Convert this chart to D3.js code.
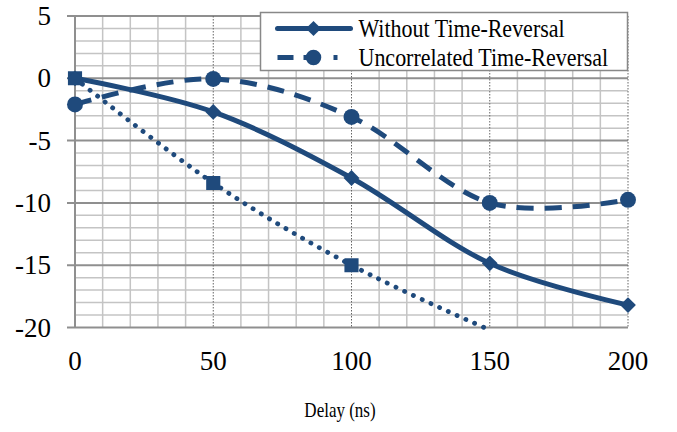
<!DOCTYPE html>
<html>
<head>
<meta charset="utf-8">
<script src="https://cdn.jsdelivr.net/npm/d3@7"></script>
<style>
  body { margin: 0; background: #fff; }
</style>
</head>
<body>
<div id="chart"></div>
<script>
const delays = [0, 50, 100, 150, 200];
const withoutTR = [0, -2.7, -8.0, -14.85, -18.2];
const uncorrelatedTR = [-2.1, -0.05, -3.1, -10.0, -9.75];
const thirdSeries = [0, -8.4, -15.0, -20.2];
const seriesNames = ["Without Time-Reversal", "Uncorrelated Time-Reversal"];
const xTicks = [0, 50, 100, 150, 200];
const yTicks = [5, 0, -5, -10, -15, -20];

const W = 677, H = 432;
const color = "#1f4a7c";
const serif = "'Liberation Serif'";

const svg = d3.select("#chart").append("svg")
    .attr("width", W)
    .attr("height", H);

let x = d3.scaleLinear().domain([0, 200]).range([75, 628]);
let y = d3.scaleLinear().domain([-20, 5]).range([327.5, 16]);

// grid - minor
let minorY = d3.range(-20, 6, 1).filter(v => v % 5 !== 0);
svg.append("g").selectAll("line")
    .data(minorY).enter().append("line")
    .attr("x1", x(0)).attr("x2", x(200))
    .attr("y1", d => y(d)).attr("y2", d => y(d))
    .attr("stroke", "#c4c4c4").attr("stroke-width", 1.5);

let minorX = d3.range(10, 200, 10).filter(v => v % 50 !== 0);
svg.append("g").selectAll("line")
    .data(minorX).enter().append("line")
    .attr("x1", d => x(d)).attr("x2", d => x(d))
    .attr("y1", y(5)).attr("y2", y(-20))
    .attr("stroke", "#c4c4c4").attr("stroke-width", 1.5);

// major horizontal lines with left tick
svg.append("g").selectAll("line")
    .data(yTicks).enter().append("line")
    .attr("x1", x(0) - 8).attr("x2", x(200))
    .attr("y1", d => y(d)).attr("y2", d => y(d))
    .attr("stroke", "#8f8f8f").attr("stroke-width", 2);

// dotted vertical lines at the x ticks
svg.append("g").selectAll("line")
    .data(xTicks.filter(d => d > 0)).enter().append("line")
    .attr("x1", d => x(d)).attr("x2", d => x(d))
    .attr("y1", y(5)).attr("y2", y(-20))
    .attr("stroke", "#666").attr("stroke-width", 1)
    .attr("stroke-dasharray", "1.5,1.5");

// y axis line
svg.append("line")
    .attr("x1", x(0)).attr("x2", x(0))
    .attr("y1", y(5)).attr("y2", y(-20))
    .attr("stroke", "#8f8f8f").attr("stroke-width", 2);

// tick labels
svg.append("g").selectAll("text")
    .data(yTicks).enter().append("text")
    .attr("text-anchor", "end")
    .attr("x", 51)
    .attr("y", d => y(d) + 9)
    .style("font-family", serif)
    .style("font-size", "27px")
    .text(d => d);

svg.append("g").selectAll("text")
    .data(xTicks).enter().append("text")
    .attr("text-anchor", "middle")
    .attr("x", d => x(d))
    .attr("y", 370)
    .style("font-family", serif)
    .style("font-size", "27px")
    .text(d => d);

svg.append("text")
    .attr("text-anchor", "middle")
    .attr("transform", "translate(340,417) scale(1,1.25)")
    .style("font-family", serif)
    .style("font-size", "17px")
    .text("Delay (ns)");

// series
svg.append("clipPath").attr("id", "plotclip")
    .append("rect")
    .attr("x", x(0) - 12).attr("y", y(5) - 10)
    .attr("width", x(200) - x(0) + 24).attr("height", y(-20) - y(5) + 13);

const line = d3.line()
    .x(d => x(d[0]))
    .y(d => y(d[1]))
    .curve(d3.curveCatmullRom.alpha(0));

const s1 = delays.map((d, i) => [d, withoutTR[i]]);
const s2 = delays.map((d, i) => [d, uncorrelatedTR[i]]);
const s3 = thirdSeries.map((v, i) => [delays[i], v]);

const plot = svg.append("g").attr("clip-path", "url(#plotclip)");

plot.append("path").datum(s3)
    .attr("d", line)
    .attr("fill", "none").attr("stroke", color)
    .attr("stroke-width", 4.8).attr("stroke-linecap", "round")
    .attr("stroke-dasharray", "0.1,9.5");

plot.append("path").datum(s2)
    .attr("d", line)
    .attr("fill", "none").attr("stroke", color)
    .attr("stroke-width", 5)
    .attr("stroke-dasharray", "17,11");

plot.append("path").datum(s1)
    .attr("d", line)
    .attr("fill", "none").attr("stroke", color)
    .attr("stroke-width", 5);

// markers (points outside the y range are not drawn)
const inRange = d => d[1] >= -20 && d[1] <= 5;

plot.append("g").selectAll("path")
    .data(s3.filter(inRange)).enter().append("path")
    .attr("d", d3.symbol().type(d3.symbolSquare).size(200))
    .attr("transform", d => "translate(" + x(d[0]) + "," + y(d[1]) + ")")
    .attr("fill", color);

plot.append("g").selectAll("path")
    .data(s2.filter(inRange)).enter().append("path")
    .attr("d", d3.symbol().type(d3.symbolCircle).size(200))
    .attr("transform", d => "translate(" + x(d[0]) + "," + y(d[1]) + ")")
    .attr("fill", color);

plot.append("g").selectAll("path")
    .data(s1.filter(inRange)).enter().append("path")
    .attr("d", d3.symbol().type(d3.symbolSquare).size(125))
    .attr("transform", d => "translate(" + x(d[0]) + "," + y(d[1]) + ") rotate(45)")
    .attr("fill", color);

// legend
const legend = svg.append("g").attr("transform", "translate(260.5,12.5)");
legend.append("rect")
    .attr("width", 367).attr("height", 58)
    .attr("fill", "#fff").attr("stroke", "#888").attr("stroke-width", 1.5);

const rows = legend.selectAll("g.row")
    .data(seriesNames).enter().append("g")
    .attr("class", "row")
    .attr("transform", (d, i) => "translate(0," + (16 + i * 29) + ")");

rows.append("line")
    .attr("x1", 17).attr("x2", 90)
    .attr("stroke", color).attr("stroke-width", 5)
    .attr("stroke-linecap", (d, i) => i === 0 ? "round" : "butt")
    .attr("stroke-dasharray", (d, i) => i === 0 ? null : "16,10,16,14,4");

rows.append("path")
    .attr("d", (d, i) => d3.symbol()
        .type(i === 0 ? d3.symbolSquare : d3.symbolCircle)
        .size(i === 0 ? 115 : 190)())
    .attr("transform", (d, i) => "translate(53,0)" + (i === 0 ? " rotate(45)" : ""))
    .attr("fill", color);

rows.append("text")
    .attr("transform", "translate(98,8) scale(1,1.1)")
    .style("font-family", serif)
    .style("font-size", "22px")
    .text(d => d);
</script>
</body>
</html>
